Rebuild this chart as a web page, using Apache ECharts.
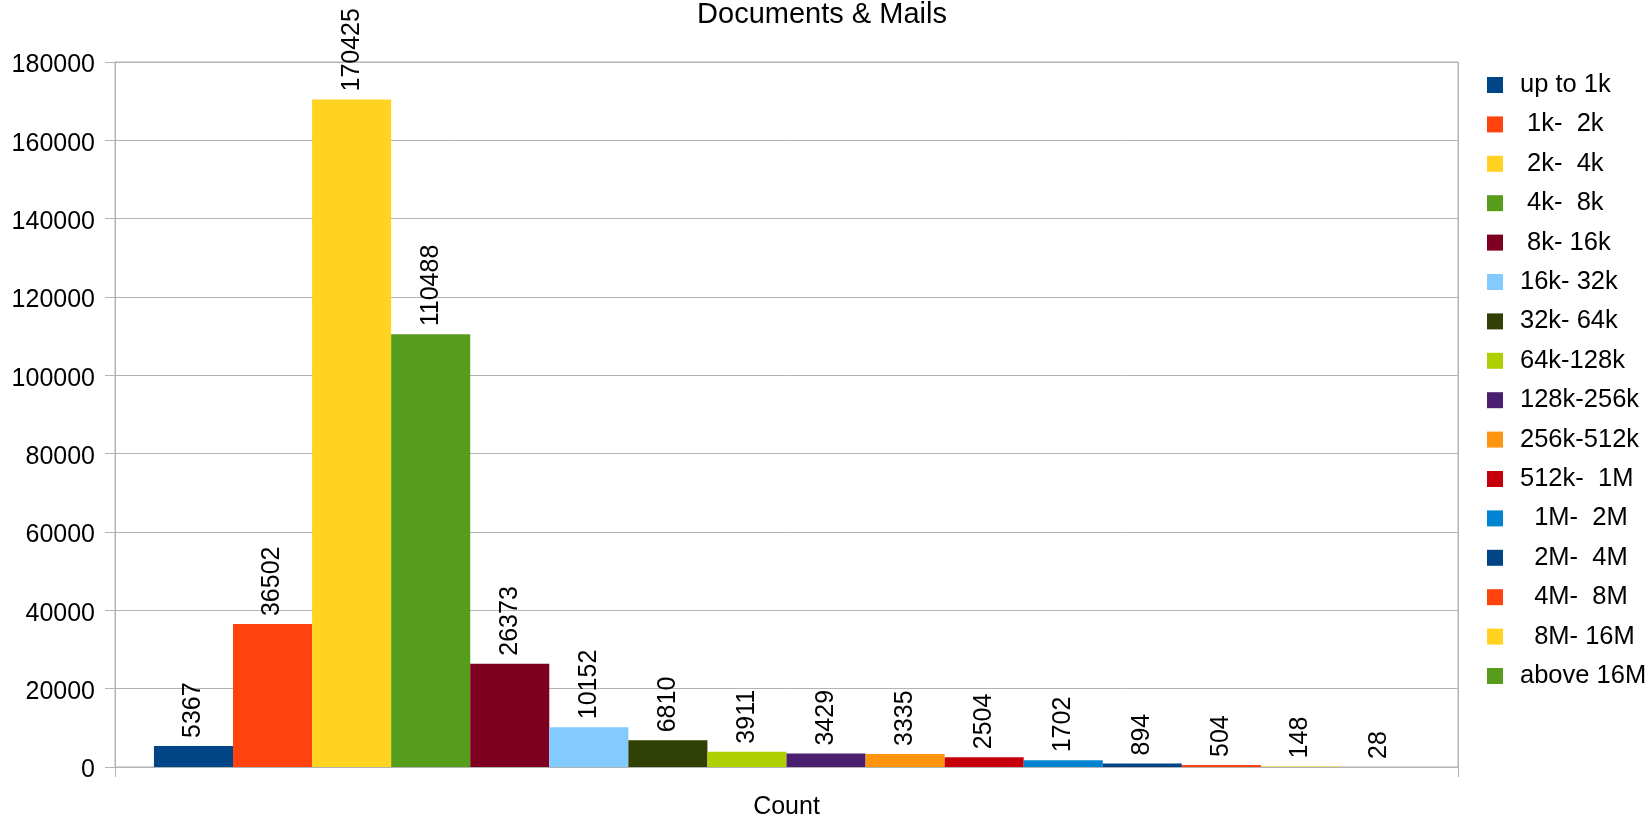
<!DOCTYPE html>
<html>
<head>
<meta charset="utf-8">
<script src="https://cdn.jsdelivr.net/npm/echarts@6/dist/echarts.min.js"></script>
<style>
html,body{margin:0;padding:0;background:#fff;}
#chart{width:1651px;height:820px;}
</style>
</head>
<body>
<div id="chart"></div>
<script>
var categories = ['Count'];
var seriesNames = ['up to 1k', ' 1k-  2k', ' 2k-  4k', ' 4k-  8k', ' 8k- 16k', '16k- 32k', '32k- 64k', '64k-128k',
  '128k-256k', '256k-512k', '512k-  1M', '  1M-  2M', '  2M-  4M', '  4M-  8M', '  8M- 16M', 'above 16M'];
var counts = [5367, 36502, 170425, 110488, 26373, 10152, 6810, 3911, 3429, 3335, 2504, 1702, 894, 504, 148, 28];
var colors = ['#004586', '#ff420e', '#ffd320', '#579d1c', '#7e0021', '#83caff', '#314004', '#aecf00',
  '#4b1f6f', '#ff950e', '#c5000b', '#0084d1', '#004586', '#ff420e', '#ffd320', '#579d1c'];
var yMin = 0, yMax = 180000, yInterval = 20000;

var FONT = '"Liberation Sans", Arial, sans-serif';
var chart = echarts.init(document.getElementById('chart'), null, {renderer: 'canvas'});

var series = seriesNames.map(function (name, i) {
  return {
    name: name,
    type: 'bar',
    xAxisIndex: 0,
    data: [counts[i]],
    itemStyle: {color: colors[i]},
    barGap: '0%',
    barCategoryGap: '5.8%',
    label: {
      show: true,
      position: 'top',
      rotate: 90,
      align: 'left',
      verticalAlign: 'middle',
      distance: 8,
      color: '#000',
      fontFamily: FONT,
      fontSize: 25
    }
  };
});

chart.setOption({
  animation: false,
  backgroundColor: '#fff',
  color: colors,
  title: {
    text: 'Documents & Mails',
    left: 817,
    top: -5,
    textAlign: 'center',
    textStyle: {fontFamily: FONT, fontSize: 29, fontWeight: 'normal', color: '#000'}
  },
  legend: {
    orient: 'vertical',
    left: 1487,
    top: 72,
    padding: 0,
    itemWidth: 16,
    itemHeight: 16,
    itemGap: 13.4,
    icon: 'rect',
    textStyle: {fontFamily: FONT, fontSize: 25.5, color: '#000', lineHeight: 25, padding: [0, 0, 0, 12]},
    data: seriesNames
  },
  grid: {
    left: 115, right: 193, top: 62, bottom: 49, containLabel: false,
    show: true, borderColor: '#b3b3b3', borderWidth: 1, backgroundColor: 'transparent'
  },
  xAxis: [{
    type: 'category',
    data: categories,
    boundaryGap: true,
    axisLine: {show: true, lineStyle: {color: '#b3b3b3', width: 1}},
    axisTick: {show: true, length: 10, interval: 0, lineStyle: {color: '#b3b3b3'}},
    splitLine: {show: false},
    axisLabel: {color: '#000', fontFamily: FONT, fontSize: 25, margin: 28}
  }, {
    type: 'value',
    position: 'top',
    min: 0,
    max: 1,
    interval: 1,
    axisLine: {show: false},
    axisTick: {show: false},
    axisLabel: {show: false},
    splitLine: {show: true, lineStyle: {color: '#b3b3b3', width: 1}}
  }],
  yAxis: {
    type: 'value',
    min: yMin,
    max: yMax,
    interval: yInterval,
    axisLine: {show: true, lineStyle: {color: '#b3b3b3', width: 1}},
    axisTick: {show: true, length: 10, lineStyle: {color: '#b3b3b3'}},
    splitLine: {show: true, lineStyle: {color: '#b3b3b3', width: 1}},
    axisLabel: {
      color: '#000', fontFamily: FONT, fontSize: 25, margin: 20,
      formatter: function (v) { return '{v|' + v + '}'; },
      rich: {v: {fontFamily: FONT, fontSize: 25, color: '#000', padding: [7, 0, 0, 0]}}
    }
  },
  series: series
});
</script>
</body>
</html>
